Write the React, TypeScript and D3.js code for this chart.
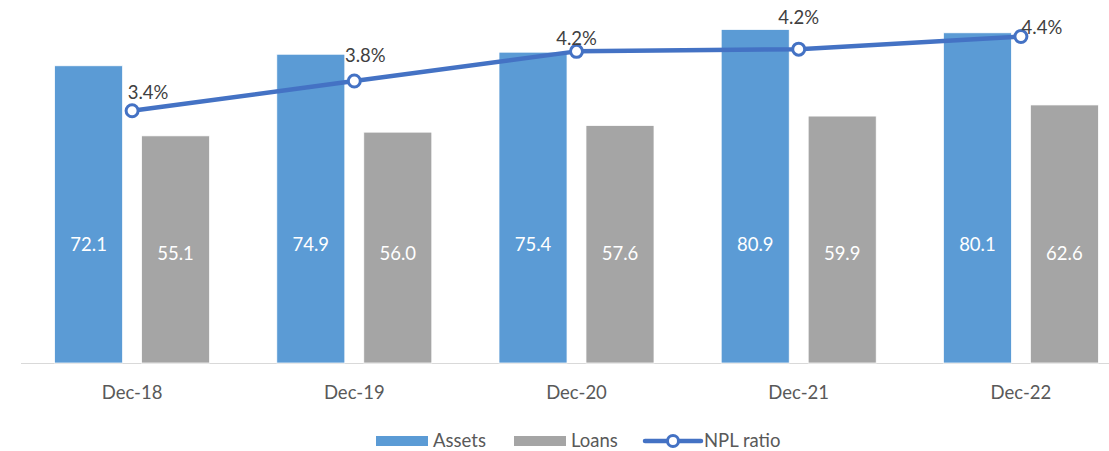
import React from "react";
import * as d3 from "d3";

const categories = ["Dec-18", "Dec-19", "Dec-20", "Dec-21", "Dec-22"];
const assets = [72.1, 74.9, 75.4, 80.9, 80.1];
const loans = [55.1, 56.0, 57.6, 59.9, 62.6];
const nplRatio = [3.4, 3.8, 4.2, 4.23, 4.4];
const nplLabels = ["3.4%", "3.8%", "4.2%", "4.2%", "4.4%"];
const seriesNames = ["Assets", "Loans"];

// label offsets for NPL ratio labels (dx, dy relative to point)
const nplLabelOffsets: [number, number][] = [
  [16, -19],
  [11, -26],
  [0, -13],
  [0, -32],
  [21, -10],
];

const W = 1109;
const H = 451;
const FONT = "Lato, 'Open Sans', sans-serif";
const FS = 18.5;

export default function App() {
  const baseY = 363;
  const x = d3.scaleBand<string>().domain(categories).range([21, 1132]).padding(0);
  const inner = d3
    .scaleBand<string>()
    .domain(seriesNames)
    .range([-77.5, 77.5])
    .paddingInner(0.218)
    .paddingOuter(0);
  const y = d3.scaleLinear().domain([0, 90]).range([baseY, -8]);
  const y2 = d3.scaleLinear().domain([0, 5]).range([baseY, -8]);
  const cx = (c: string) => (x(c) as number) + x.bandwidth() / 2;

  const line = d3
    .line<number>()
    .x((_, i) => cx(categories[i]))
    .y((d) => y2(d));

  const colors: Record<string, string> = { Assets: "#5B9BD5", Loans: "#A5A5A5" };
  const data: Record<string, number[]> = { Assets: assets, Loans: loans };
  const labelY: Record<string, number> = { Assets: 244, Loans: 253 };
  const legY = 440;

  return (
    <svg
      width={W}
      height={H}
      style={{ position: "absolute", left: 0, top: 0, background: "#fff" }}
      fontFamily={FONT}
    >
      <line x1={21} x2={W} y1={baseY + 0.5} y2={baseY + 0.5} stroke="#D9D9D9" strokeWidth={1} />
      {seriesNames.map((s) =>
        categories.map((c, i) => {
          const bx = cx(c) + (inner(s) as number);
          const v = data[s][i];
          return (
            <g key={s + c}>
              <rect
                x={bx}
                y={y(v)}
                width={inner.bandwidth()}
                height={baseY - y(v)}
                fill={colors[s]}
                stroke="#fff"
                strokeWidth={0.75}
              />
              <text
                x={bx + inner.bandwidth() / 2}
                y={labelY[s]}
                textAnchor="middle"
                dominantBaseline="central"
                fill="#fff"
                fontSize={FS}
              >
                {v.toFixed(1)}
              </text>
            </g>
          );
        })
      )}
      <path d={line(nplRatio) || ""} fill="none" stroke="#4472C4" strokeWidth={4.5} strokeLinejoin="round" />
      {nplRatio.map((v, i) => (
        <circle key={i} cx={cx(categories[i])} cy={y2(v)} r={6} fill="#fff" stroke="#4472C4" strokeWidth={3} />
      ))}
      {nplRatio.map((v, i) => (
        <text
          key={"l" + i}
          x={cx(categories[i]) + nplLabelOffsets[i][0]}
          y={y2(v) + nplLabelOffsets[i][1]}
          textAnchor="middle"
          dominantBaseline="central"
          fill="#404040"
          fontSize={FS}
        >
          {nplLabels[i]}
        </text>
      ))}
      {categories.map((c) => (
        <text
          key={"x" + c}
          x={cx(c)}
          y={392}
          textAnchor="middle"
          dominantBaseline="central"
          fill="#595959"
          fontSize={FS}
        >
          {c}
        </text>
      ))}
      {/* legend */}
      <g fontSize={FS} fill="#595959">
        <rect x={376} y={legY - 4} width={52} height={10} fill={colors.Assets} />
        <text x={433} y={legY} dominantBaseline="central">Assets</text>
        <rect x={514} y={legY - 4} width={52} height={10} fill={colors.Loans} />
        <text x={571} y={legY} dominantBaseline="central">Loans</text>
        <line x1={645} x2={701} y1={legY + 1} y2={legY + 1} stroke="#4472C4" strokeWidth={4.5} strokeLinecap="round" />
        <circle cx={673} cy={legY + 1} r={5.5} fill="#fff" stroke="#4472C4" strokeWidth={3} />
        <text x={704} y={legY} dominantBaseline="central">NPL ratio</text>
      </g>
    </svg>
  );
}
